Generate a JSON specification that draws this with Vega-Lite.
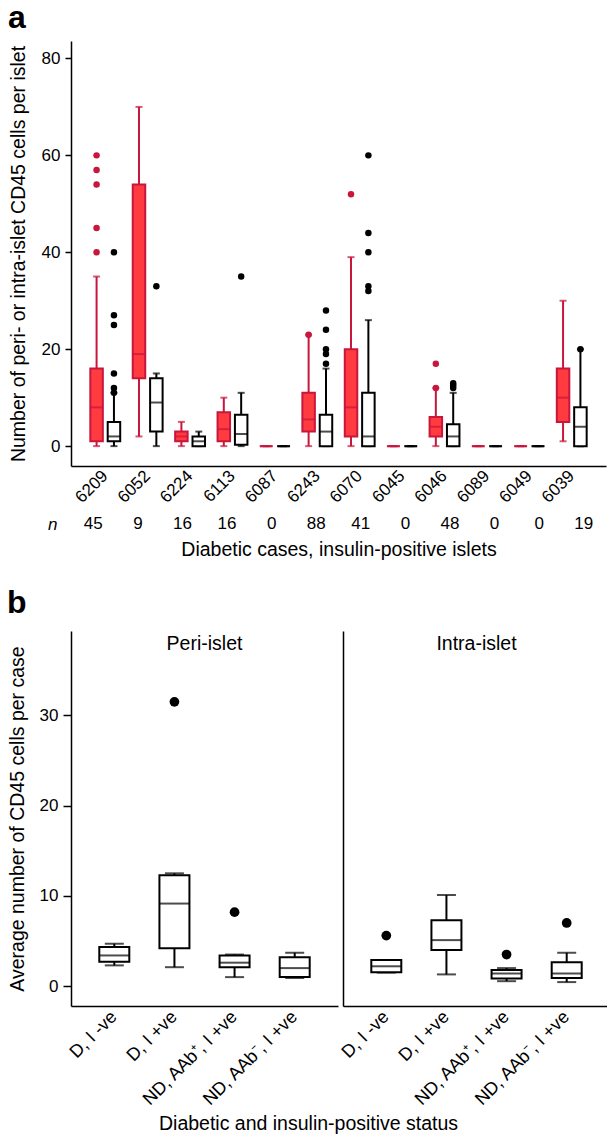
{
  "$schema": "https://vega.github.io/schema/vega-lite/v6.json",
  "padding": {"left": 7, "top": 2, "right": 0, "bottom": 2},
  "background": "white",
  "datasets": {
    "statsA": [
      {"case": "6209", "type": "Peri", "lo": 0, "q1": 1, "med": 8, "q3": 16, "hi": 35},
      {"case": "6209", "type": "Intra", "lo": 0, "q1": 1, "med": 2, "q3": 5, "hi": 11},
      {"case": "6052", "type": "Peri", "lo": 2, "q1": 14, "med": 19, "q3": 54, "hi": 70},
      {"case": "6052", "type": "Intra", "lo": 0, "q1": 3, "med": 9, "q3": 14, "hi": 15},
      {"case": "6224", "type": "Peri", "lo": 0, "q1": 1, "med": 2, "q3": 3, "hi": 5},
      {"case": "6224", "type": "Intra", "lo": 0, "q1": 0, "med": 1, "q3": 2, "hi": 3},
      {"case": "6113", "type": "Peri", "lo": 0, "q1": 1, "med": 3.5, "q3": 7, "hi": 10},
      {"case": "6113", "type": "Intra", "lo": 0, "q1": 0.3, "med": 2.5, "q3": 6.5, "hi": 11},
      {"case": "6087", "type": "Peri", "lo": 0, "q1": 0, "med": 0, "q3": 0, "hi": 0},
      {"case": "6087", "type": "Intra", "lo": 0, "q1": 0, "med": 0, "q3": 0, "hi": 0},
      {"case": "6243", "type": "Peri", "lo": 0, "q1": 3, "med": 5.5, "q3": 11, "hi": 23},
      {"case": "6243", "type": "Intra", "lo": 0, "q1": 0, "med": 3, "q3": 6.5, "hi": 16},
      {"case": "6070", "type": "Peri", "lo": 0, "q1": 2, "med": 8, "q3": 20, "hi": 39},
      {"case": "6070", "type": "Intra", "lo": 0, "q1": 0, "med": 2, "q3": 11, "hi": 26},
      {"case": "6045", "type": "Peri", "lo": 0, "q1": 0, "med": 0, "q3": 0, "hi": 0},
      {"case": "6045", "type": "Intra", "lo": 0, "q1": 0, "med": 0, "q3": 0, "hi": 0},
      {"case": "6046", "type": "Peri", "lo": 0, "q1": 2, "med": 4, "q3": 6, "hi": 12},
      {"case": "6046", "type": "Intra", "lo": 0, "q1": 0, "med": 2, "q3": 4.5, "hi": 11},
      {"case": "6089", "type": "Peri", "lo": 0, "q1": 0, "med": 0, "q3": 0, "hi": 0},
      {"case": "6089", "type": "Intra", "lo": 0, "q1": 0, "med": 0, "q3": 0, "hi": 0},
      {"case": "6049", "type": "Peri", "lo": 0, "q1": 0, "med": 0, "q3": 0, "hi": 0},
      {"case": "6049", "type": "Intra", "lo": 0, "q1": 0, "med": 0, "q3": 0, "hi": 0},
      {"case": "6039", "type": "Peri", "lo": 1, "q1": 5, "med": 10, "q3": 16, "hi": 30},
      {"case": "6039", "type": "Intra", "lo": 0, "q1": 0, "med": 4, "q3": 8, "hi": 20}
    ],
    "outA": [
      {"case": "6209", "type": "Peri", "v": 60},
      {"case": "6209", "type": "Peri", "v": 57},
      {"case": "6209", "type": "Peri", "v": 54},
      {"case": "6209", "type": "Peri", "v": 45},
      {"case": "6209", "type": "Peri", "v": 40},
      {"case": "6209", "type": "Intra", "v": 40},
      {"case": "6209", "type": "Intra", "v": 27},
      {"case": "6209", "type": "Intra", "v": 25},
      {"case": "6209", "type": "Intra", "v": 15},
      {"case": "6209", "type": "Intra", "v": 12},
      {"case": "6209", "type": "Intra", "v": 11},
      {"case": "6052", "type": "Intra", "v": 33},
      {"case": "6113", "type": "Intra", "v": 35},
      {"case": "6243", "type": "Peri", "v": 23},
      {"case": "6243", "type": "Intra", "v": 28},
      {"case": "6243", "type": "Intra", "v": 24},
      {"case": "6243", "type": "Intra", "v": 20},
      {"case": "6243", "type": "Intra", "v": 19},
      {"case": "6243", "type": "Intra", "v": 17},
      {"case": "6070", "type": "Peri", "v": 52},
      {"case": "6070", "type": "Intra", "v": 60},
      {"case": "6070", "type": "Intra", "v": 44},
      {"case": "6070", "type": "Intra", "v": 40},
      {"case": "6070", "type": "Intra", "v": 33},
      {"case": "6070", "type": "Intra", "v": 32},
      {"case": "6046", "type": "Peri", "v": 17},
      {"case": "6046", "type": "Peri", "v": 12},
      {"case": "6046", "type": "Intra", "v": 13},
      {"case": "6046", "type": "Intra", "v": 12.5},
      {"case": "6046", "type": "Intra", "v": 12},
      {"case": "6039", "type": "Intra", "v": 20}
    ],
    "nA": [
      {"case": "6209", "n": 45, "lab": "n"},
      {"case": "6052", "n": 9, "lab": "n"},
      {"case": "6224", "n": 16, "lab": "n"},
      {"case": "6113", "n": 16, "lab": "n"},
      {"case": "6087", "n": 0, "lab": "n"},
      {"case": "6243", "n": 88, "lab": "n"},
      {"case": "6070", "n": 41, "lab": "n"},
      {"case": "6045", "n": 0, "lab": "n"},
      {"case": "6046", "n": 48, "lab": "n"},
      {"case": "6089", "n": 0, "lab": "n"},
      {"case": "6049", "n": 0, "lab": "n"},
      {"case": "6039", "n": 19, "lab": "n"}
    ],
    "statsB": [
      {"panel": "Peri", "group": "D, I -ve", "lo": 2.3, "q1": 2.7, "med": 3.4, "q3": 4.35, "hi": 4.7},
      {"panel": "Peri", "group": "D, I +ve", "lo": 2.1, "q1": 4.2, "med": 9.15, "q3": 12.3, "hi": 12.5},
      {"panel": "Peri", "group": "ND, AAb⁺, I +ve", "lo": 1.0, "q1": 2.1, "med": 2.6, "q3": 3.4, "hi": 3.5},
      {"panel": "Peri", "group": "ND, AAb⁻, I +ve", "lo": 0.9, "q1": 1.0, "med": 2.0, "q3": 3.2, "hi": 3.7},
      {"panel": "Intra", "group": "D, I -ve", "lo": 1.5, "q1": 1.55, "med": 2.2, "q3": 2.9, "hi": 2.9},
      {"panel": "Intra", "group": "D, I +ve", "lo": 1.3, "q1": 4.0, "med": 5.1, "q3": 7.3, "hi": 10.1},
      {"panel": "Intra", "group": "ND, AAb⁺, I +ve", "lo": 0.55, "q1": 0.85, "med": 1.4, "q3": 1.8, "hi": 2.0},
      {"panel": "Intra", "group": "ND, AAb⁻, I +ve", "lo": 0.45, "q1": 0.9, "med": 1.4, "q3": 2.65, "hi": 3.7}
    ],
    "outB": [
      {"panel": "Peri", "group": "D, I +ve", "v": 31.5},
      {"panel": "Peri", "group": "ND, AAb⁺, I +ve", "v": 8.2},
      {"panel": "Intra", "group": "D, I -ve", "v": 5.6},
      {"panel": "Intra", "group": "ND, AAb⁺, I +ve", "v": 3.5},
      {"panel": "Intra", "group": "ND, AAb⁻, I +ve", "v": 7.0}
    ],
    "headB": [
      {"panel": "Peri", "label": "Peri-islet"},
      {"panel": "Intra", "label": "Intra-islet"}
    ]
  },
  "vconcat": [
    {
      "vconcat": [
        {
          "title": {"text": "a", "anchor": "start", "frame": "bounds", "fontSize": 32, "fontWeight": "bold", "offset": 6},
          "width": 535,
          "height": 425,
          "layer": [
            {
              "data": {"name": "statsA"},
              "mark": {"type": "rule", "strokeWidth": 2},
              "encoding": {
                "x": {"field": "case", "type": "nominal", "sort": ["6209","6052","6224","6113","6087","6243","6070","6045","6046","6089","6049","6039"], "scale": {"paddingInner": 0.144, "paddingOuter": 0.38},
                  "axis": {"title": null, "labelAngle": -45, "labelAlign": "right", "labelBaseline": "middle", "ticks": false, "labelPadding": 7, "labelFontSize": 17}},
                "xOffset": {"field": "type", "type": "nominal", "sort": ["Peri", "Intra"], "scale": {"paddingInner": 0.28, "paddingOuter": 0.185}},
                "y": {"field": "lo", "type": "quantitative", "scale": {"domain": [-4.1, 83.6], "nice": false, "zero": false},
                  "axis": {"values": [0, 20, 40, 60, 80], "title": "Number of peri- or intra-islet CD45 cells per islet", "titleFontSize": 19.5, "labelFontSize": 17, "tickSize": 6, "labelPadding": 5, "titlePadding": 13}},
                "y2": {"field": "hi"},
                "color": {"field": "type", "type": "nominal", "scale": {"domain": ["Peri", "Intra"], "range": ["#C8163C", "#000000"]}, "legend": null}
              }
            },
            {
              "data": {"name": "statsA"},
              "mark": {"type": "tick", "size": 7, "thickness": 2},
              "encoding": {
                "x": {"field": "case", "type": "nominal", "sort": ["6209","6052","6224","6113","6087","6243","6070","6045","6046","6089","6049","6039"]},
                "xOffset": {"field": "type", "type": "nominal", "sort": ["Peri", "Intra"]},
                "y": {"field": "hi", "type": "quantitative"},
                "color": {"field": "type", "type": "nominal", "legend": null}
              }
            },
            {
              "data": {"name": "statsA"},
              "mark": {"type": "tick", "size": 7, "thickness": 2},
              "encoding": {
                "x": {"field": "case", "type": "nominal", "sort": ["6209","6052","6224","6113","6087","6243","6070","6045","6046","6089","6049","6039"]},
                "xOffset": {"field": "type", "type": "nominal", "sort": ["Peri", "Intra"]},
                "y": {"field": "lo", "type": "quantitative"},
                "color": {"field": "type", "type": "nominal", "legend": null}
              }
            },
            {
              "data": {"name": "statsA"},
              "mark": {"type": "bar", "strokeWidth": 2},
              "encoding": {
                "x": {"field": "case", "type": "nominal", "sort": ["6209","6052","6224","6113","6087","6243","6070","6045","6046","6089","6049","6039"]},
                "xOffset": {"field": "type", "type": "nominal", "sort": ["Peri", "Intra"]},
                "y": {"field": "q1", "type": "quantitative"},
                "y2": {"field": "q3"},
                "fill": {"field": "type", "type": "nominal", "scale": {"domain": ["Peri", "Intra"], "range": ["#FF3B3F", "#FFFFFF"]}, "legend": null},
                "stroke": {"field": "type", "type": "nominal", "scale": {"domain": ["Peri", "Intra"], "range": ["#C8163C", "#000000"]}, "legend": null}
              }
            },
            {
              "data": {"name": "statsA"},
              "mark": {"type": "tick", "size": 13, "thickness": 2},
              "encoding": {
                "x": {"field": "case", "type": "nominal", "sort": ["6209","6052","6224","6113","6087","6243","6070","6045","6046","6089","6049","6039"]},
                "xOffset": {"field": "type", "type": "nominal", "sort": ["Peri", "Intra"]},
                "y": {"field": "med", "type": "quantitative"},
                "color": {"field": "type", "type": "nominal", "legend": null}
              }
            },
            {
              "data": {"name": "outA"},
              "mark": {"type": "point", "filled": true, "opacity": 1, "size": 42},
              "encoding": {
                "x": {"field": "case", "type": "nominal", "sort": ["6209","6052","6224","6113","6087","6243","6070","6045","6046","6089","6049","6039"]},
                "xOffset": {"field": "type", "type": "nominal", "sort": ["Peri", "Intra"]},
                "y": {"field": "v", "type": "quantitative"},
                "color": {"field": "type", "type": "nominal", "legend": null}
              }
            }
          ]
        },
        {
          "width": 535,
          "height": 20,
          "data": {"name": "nA"},
          "mark": {"type": "text", "fontSize": 17, "color": "#000"},
          "encoding": {
            "x": {"field": "case", "type": "nominal", "sort": ["6209","6052","6224","6113","6087","6243","6070","6045","6046","6089","6049","6039"], "scale": {"paddingInner": 0.144, "paddingOuter": 0.38},
              "axis": {"labels": false, "ticks": false, "domain": false, "title": "Diabetic cases, insulin-positive islets", "titleFontSize": 19.5, "titlePadding": 6}},
            "y": {"field": "lab", "type": "nominal", "axis": {"title": null, "domain": false, "ticks": false, "labelFontStyle": "italic", "labelFontSize": 17, "labelPadding": 14}},
            "text": {"field": "n"}
          }
        }
      ],
      "spacing": 8,
      "resolve": {"scale": {"x": "independent", "y": "independent"}}
    },
    {
      "title": {"text": "b", "anchor": "start", "frame": "bounds", "fontSize": 32, "fontWeight": "bold", "offset": 11},
      "vconcat": [
        {
          "title": {"text": "Diabetic and insulin-positive status", "orient": "bottom", "anchor": "middle", "fontSize": 19.5, "fontWeight": "normal", "offset": 6},
          "spacing": 0,
          "resolve": {"scale": {"x": "independent", "y": "independent"}},
          "hconcat": [
            {
              "width": 267,
              "height": 375,
              "layer": [
                {
                  "data": {"name": "statsB"},
                  "transform": [{"filter": "datum.panel === 'Peri'"}],
                  "mark": {"type": "rule", "strokeWidth": 2, "color": "#000"},
                  "encoding": {
                    "x": {"field": "group", "type": "nominal", "sort": ["D, I -ve", "D, I +ve", "ND, AAb⁺, I +ve", "ND, AAb⁻, I +ve"], "scale": {"paddingInner": 0, "paddingOuter": 0.22},
                      "axis": {"title": null, "labelAngle": -45, "labelAlign": "right", "labelBaseline": "middle", "ticks": false, "labelPadding": 8, "labelFontSize": 18}},
                    "y": {"field": "lo", "type": "quantitative", "scale": {"domain": [-2.2, 39.35], "nice": false, "zero": false},
                      "axis": {"values": [0, 10, 20, 30], "title": "Average number of CD45 cells per case", "titleFontSize": 19.5, "labelFontSize": 17, "tickSize": 8, "labelPadding": 5, "titlePadding": 12}},
                    "y2": {"field": "hi"}
                  }
                },
                {
                  "data": {"name": "statsB"},
                  "transform": [{"filter": "datum.panel === 'Peri'"}],
                  "mark": {"type": "tick", "size": 19, "thickness": 2, "color": "#000"},
                  "encoding": {
                    "x": {"field": "group", "type": "nominal", "sort": ["D, I -ve", "D, I +ve", "ND, AAb⁺, I +ve", "ND, AAb⁻, I +ve"]},
                    "y": {"field": "hi", "type": "quantitative"}
                  }
                },
                {
                  "data": {"name": "statsB"},
                  "transform": [{"filter": "datum.panel === 'Peri'"}],
                  "mark": {"type": "tick", "size": 19, "thickness": 2, "color": "#000"},
                  "encoding": {
                    "x": {"field": "group", "type": "nominal", "sort": ["D, I -ve", "D, I +ve", "ND, AAb⁺, I +ve", "ND, AAb⁻, I +ve"]},
                    "y": {"field": "lo", "type": "quantitative"}
                  }
                },
                {
                  "data": {"name": "statsB"},
                  "transform": [{"filter": "datum.panel === 'Peri'"}],
                  "mark": {"type": "bar", "width": 30, "fill": "#FFFFFF", "stroke": "#000", "strokeWidth": 2},
                  "encoding": {
                    "x": {"field": "group", "type": "nominal", "sort": ["D, I -ve", "D, I +ve", "ND, AAb⁺, I +ve", "ND, AAb⁻, I +ve"]},
                    "y": {"field": "q1", "type": "quantitative"},
                    "y2": {"field": "q3"}
                  }
                },
                {
                  "data": {"name": "statsB"},
                  "transform": [{"filter": "datum.panel === 'Peri'"}],
                  "mark": {"type": "tick", "size": 30, "thickness": 2, "color": "#000"},
                  "encoding": {
                    "x": {"field": "group", "type": "nominal", "sort": ["D, I -ve", "D, I +ve", "ND, AAb⁺, I +ve", "ND, AAb⁻, I +ve"]},
                    "y": {"field": "med", "type": "quantitative"}
                  }
                },
                {
                  "data": {"name": "outB"},
                  "transform": [{"filter": "datum.panel === 'Peri'"}],
                  "mark": {"type": "point", "filled": true, "opacity": 1, "size": 95, "color": "#000"},
                  "encoding": {
                    "x": {"field": "group", "type": "nominal", "sort": ["D, I -ve", "D, I +ve", "ND, AAb⁺, I +ve", "ND, AAb⁻, I +ve"]},
                    "y": {"field": "v", "type": "quantitative"}
                  }
                },
                {
                  "data": {"name": "headB"},
                  "transform": [{"filter": "datum.panel === 'Peri'"}],
                  "mark": {"type": "text", "fontSize": 19.5, "color": "#000", "baseline": "middle"},
                  "encoding": {
                    "x": {"datum": "ND, AAb⁺, I +ve", "type": "nominal", "bandPosition": 0},
                    "y": {"datum": 37.9, "type": "quantitative"},
                    "text": {"field": "label"}
                  }
                }
              ]
            },
            {
              "width": 267,
              "height": 375,
              "layer": [
                {
                  "data": {"name": "statsB"},
                  "transform": [{"filter": "datum.panel === 'Intra'"}],
                  "mark": {"type": "rule", "strokeWidth": 2, "color": "#000"},
                  "encoding": {
                    "x": {"field": "group", "type": "nominal", "sort": ["D, I -ve", "D, I +ve", "ND, AAb⁺, I +ve", "ND, AAb⁻, I +ve"], "scale": {"paddingInner": 0, "paddingOuter": 0.22},
                      "axis": {"title": null, "labelAngle": -45, "labelAlign": "right", "labelBaseline": "middle", "ticks": false, "labelPadding": 8, "labelFontSize": 18}},
                    "y": {"field": "lo", "type": "quantitative", "scale": {"domain": [-2.2, 39.35], "nice": false, "zero": false},
                      "axis": {"labels": false, "ticks": false, "title": null}},
                    "y2": {"field": "hi"}
                  }
                },
                {
                  "data": {"name": "statsB"},
                  "transform": [{"filter": "datum.panel === 'Intra'"}],
                  "mark": {"type": "tick", "size": 19, "thickness": 2, "color": "#000"},
                  "encoding": {
                    "x": {"field": "group", "type": "nominal", "sort": ["D, I -ve", "D, I +ve", "ND, AAb⁺, I +ve", "ND, AAb⁻, I +ve"]},
                    "y": {"field": "hi", "type": "quantitative"}
                  }
                },
                {
                  "data": {"name": "statsB"},
                  "transform": [{"filter": "datum.panel === 'Intra'"}],
                  "mark": {"type": "tick", "size": 19, "thickness": 2, "color": "#000"},
                  "encoding": {
                    "x": {"field": "group", "type": "nominal", "sort": ["D, I -ve", "D, I +ve", "ND, AAb⁺, I +ve", "ND, AAb⁻, I +ve"]},
                    "y": {"field": "lo", "type": "quantitative"}
                  }
                },
                {
                  "data": {"name": "statsB"},
                  "transform": [{"filter": "datum.panel === 'Intra'"}],
                  "mark": {"type": "bar", "width": 30, "fill": "#FFFFFF", "stroke": "#000", "strokeWidth": 2},
                  "encoding": {
                    "x": {"field": "group", "type": "nominal", "sort": ["D, I -ve", "D, I +ve", "ND, AAb⁺, I +ve", "ND, AAb⁻, I +ve"]},
                    "y": {"field": "q1", "type": "quantitative"},
                    "y2": {"field": "q3"}
                  }
                },
                {
                  "data": {"name": "statsB"},
                  "transform": [{"filter": "datum.panel === 'Intra'"}],
                  "mark": {"type": "tick", "size": 30, "thickness": 2, "color": "#000"},
                  "encoding": {
                    "x": {"field": "group", "type": "nominal", "sort": ["D, I -ve", "D, I +ve", "ND, AAb⁺, I +ve", "ND, AAb⁻, I +ve"]},
                    "y": {"field": "med", "type": "quantitative"}
                  }
                },
                {
                  "data": {"name": "outB"},
                  "transform": [{"filter": "datum.panel === 'Intra'"}],
                  "mark": {"type": "point", "filled": true, "opacity": 1, "size": 95, "color": "#000"},
                  "encoding": {
                    "x": {"field": "group", "type": "nominal", "sort": ["D, I -ve", "D, I +ve", "ND, AAb⁺, I +ve", "ND, AAb⁻, I +ve"]},
                    "y": {"field": "v", "type": "quantitative"}
                  }
                },
                {
                  "data": {"name": "headB"},
                  "transform": [{"filter": "datum.panel === 'Intra'"}],
                  "mark": {"type": "text", "fontSize": 19.5, "color": "#000", "baseline": "middle"},
                  "encoding": {
                    "x": {"datum": "ND, AAb⁺, I +ve", "type": "nominal", "bandPosition": 0},
                    "y": {"datum": 37.9, "type": "quantitative"},
                    "text": {"field": "label"}
                  }
                }
              ]
            }
          ]
        }
      ]
    }
  ],
  "spacing": 28,
  "config": {
    "font": "Liberation Sans",
    "view": {"stroke": null},
    "axis": {"domainColor": "#000", "domainWidth": 1.5, "tickColor": "#000", "tickWidth": 1.5, "labelColor": "#000", "titleColor": "#000", "titleFontWeight": "normal", "grid": false, "labelFont": "Liberation Sans", "titleFont": "Liberation Sans"},
    "title": {"font": "Liberation Sans", "color": "#000"}
  }
}
